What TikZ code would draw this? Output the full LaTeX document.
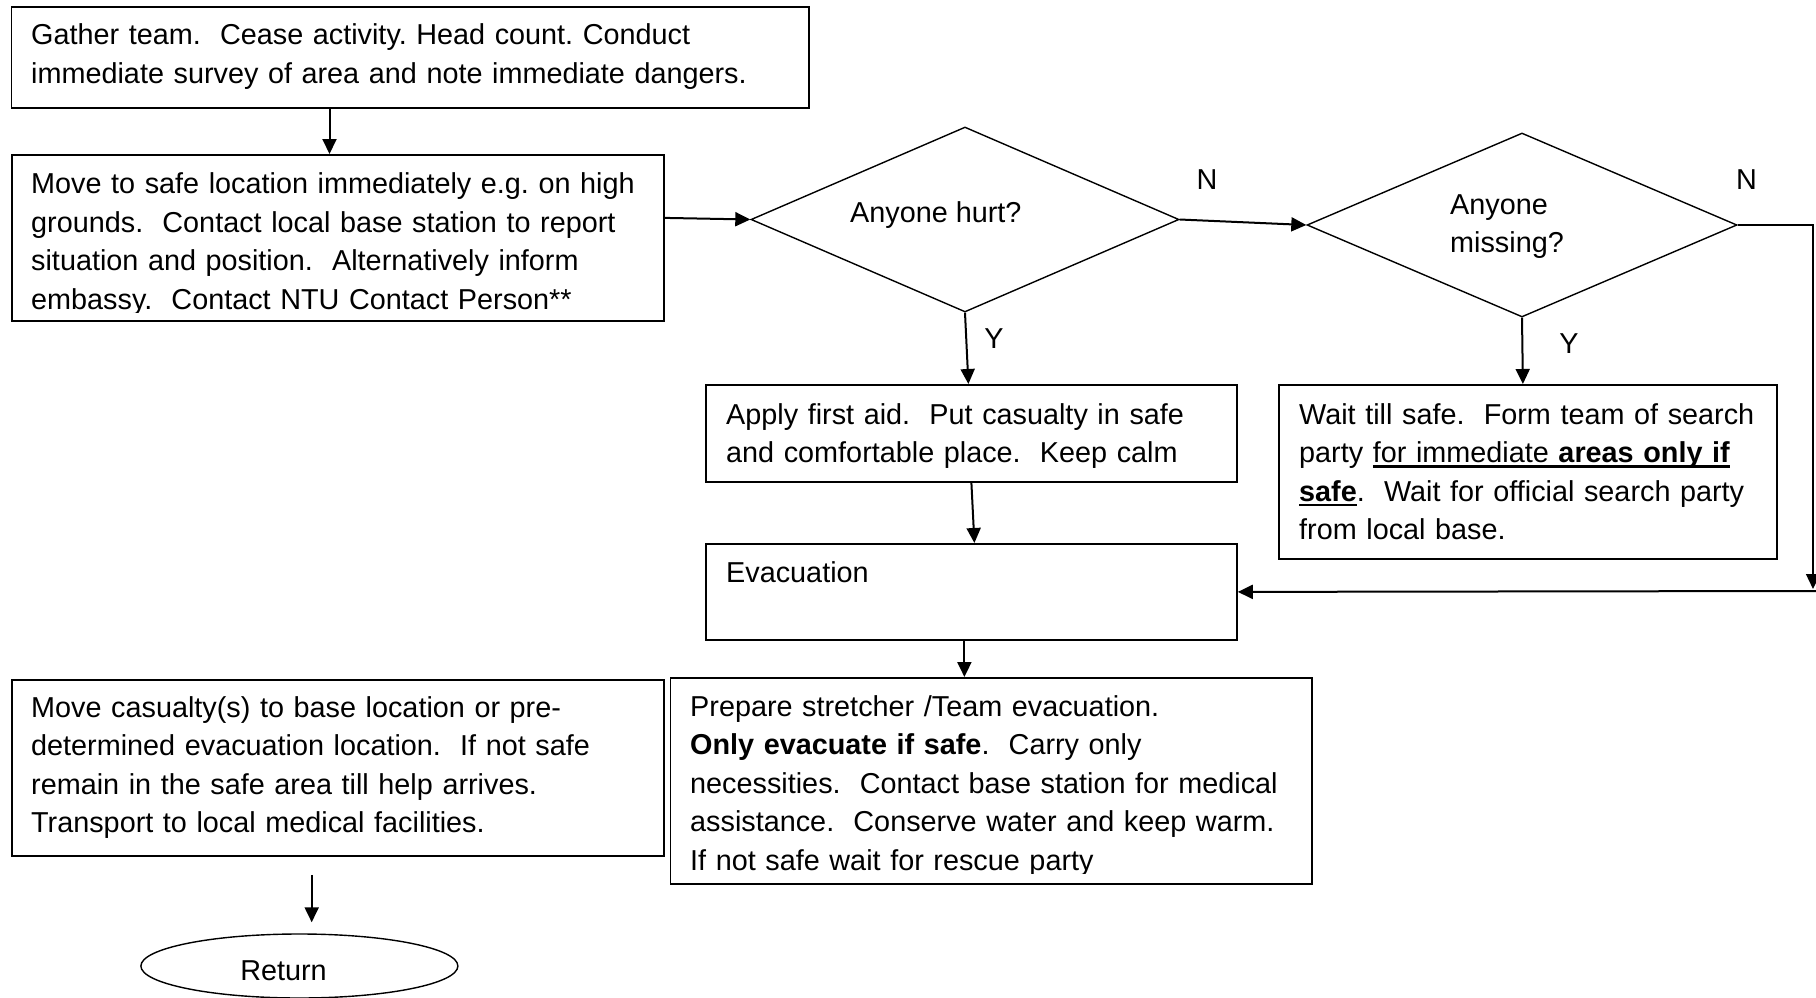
\documentclass[tikz,border=0pt]{standalone}
\usepackage{fontspec}
\setmainfont{Liberation Sans}
\usetikzlibrary{shapes.geometric,arrows.meta,calc}
\newcommand\ulx[1]{\leavevmode\setbox0\hbox{#1}\rlap{\rule[-5pt]{\wd0}{2.6pt}}\box0}
\begin{document}
\frenchspacing
\begin{tikzpicture}[x=1pt,y=-1pt,
  box/.style={draw, line width=1.8pt, rectangle, inner sep=0pt, anchor=north west},
  txt/.style={anchor=base west, inner sep=0pt, text width=760pt, align=left, font=\fontsize{28.8}{38.6}\selectfont},
  dec/.style={draw, diamond, line width=1.4pt, inner sep=0pt},
  lbl/.style={inner sep=0pt, font=\fontsize{28.8}{38.6}\selectfont},
  arr/.style={line width=2pt, -{Triangle[length=15pt,width=14pt]}},
  thinarr/.style={line width=1.5pt, -{Triangle[length=15pt,width=14pt]}},
]
\useasboundingbox (0,0) rectangle (1816,998);

% boxes
\node[box, minimum width=797.5pt, minimum height=101pt] (b1) at (10.5,6) {};
\node[box, minimum width=652pt, minimum height=166pt] (b2) at (11,154) {};
\node[dec, minimum width=428pt, minimum height=185pt] (d1) at (965,219.5) {};
\node[dec, minimum width=430pt, minimum height=184pt] (d2) at (1522,225) {};
\node[box, minimum width=531pt, minimum height=97pt] (fa) at (705,384) {};
\node[box, minimum width=498pt, minimum height=174pt] (wt) at (1278,384) {};
\node[box, minimum width=531pt, minimum height=96pt] (ev) at (705,543) {};
\node[box, minimum width=641.5pt, minimum height=206pt] (pr) at (669.5,677) {};
\node[box, minimum width=652pt, minimum height=176pt] (mc) at (11,679) {};
\node[draw, ellipse, line width=1.4pt, minimum width=317pt, minimum height=64pt, inner sep=0pt] (ret) at (299.4,966) {};

% texts
\node[txt] (b1t) at (31,45) {Gather team.\ \ Cease activity. Head count. Conduct\\immediate survey of area and note immediate dangers.};
\begin{scope}
\clip (b2.north west) rectangle ([yshift=9pt]b2.south east);
\node[txt] (b2t) at (31,193.5) {Move to safe location immediately e.g. on high\\grounds.\ \ Contact local base station to report\\situation and position.\ \ Alternatively inform\\embassy.\ \ Contact NTU Contact Person**};
\end{scope}
\node[lbl, anchor=base west] (d1t) at (850,222) {Anyone hurt?};
\node[txt] (d2t) at (1450,214) {Anyone\\missing?};
\node[txt] (fat) at (726,424) {Apply first aid.\ \ Put casualty in safe\\and comfortable place.\ \ Keep calm};
\node[txt] (wtt) at (1299,424) {Wait till safe.\ \ Form team of search\\party \ulx{for immediate \textbf{areas only if}}\\\ulx{\textbf{safe}}.\ \ Wait for official search party\\from local base.};
\node[txt] (evt) at (726,582) {Evacuation};
\begin{scope}
\clip (pr.north west) rectangle ([yshift=11pt]pr.south east);
\node[txt] (prt) at (690,716) {Prepare stretcher /Team evacuation.\\\textbf{Only evacuate if safe}.\ \ Carry only\\necessities.\ \ Contact base station for medical\\assistance.\ \ Conserve water and keep warm.\\If not safe wait for rescue party};
\end{scope}
\node[txt] (mct) at (31,717) {Move casualty(s) to base location or pre-\\determined evacuation location.\ \ If not safe\\remain in the safe area till help arrives.\\Transport to local medical facilities.};
\node[lbl, anchor=base] (rett) at (283.5,980) {Return};

% labels
\node[lbl] (n1) at (1207,179.5) {N};
\node[lbl] (n2) at (1746.5,179.5) {N};
\node[lbl] (y1) at (994,339) {Y};
\node[lbl] (y2) at (1569,344) {Y};

% connectors
\coordinate (a1) at (329.5,0);
\coordinate (a2) at (311.7,0);
\coordinate (cr) at (1813,589);
\coordinate (cr2) at (1816,591);
\draw[arr] (b1.south -| a1) -- (b2.north -| a1);
\draw[arr] ([yshift=20pt]b2.east) -- (d1.west);
\draw[arr] (d1.east) -- (d2.west);
\draw[arr] (d1.south) -- ([xshift=-3pt]fa.north);
\draw[arr] (d2.south) -- ([xshift=-5pt]wt.north);
\draw[arr] (fa.south) -- ([xshift=3pt]ev.north);
\draw[arr] ([xshift=-7pt]ev.south) -- ([xshift=-7pt]ev.south |- pr.north);
\draw[thinarr] (d2.east) -| (cr);
\draw[arr] (cr2) -- (ev.east);
\draw[arr, shorten <=18pt, shorten >=11pt] (mc.south -| a2) -- (ret.north -| a2);
\end{tikzpicture}
\end{document}
